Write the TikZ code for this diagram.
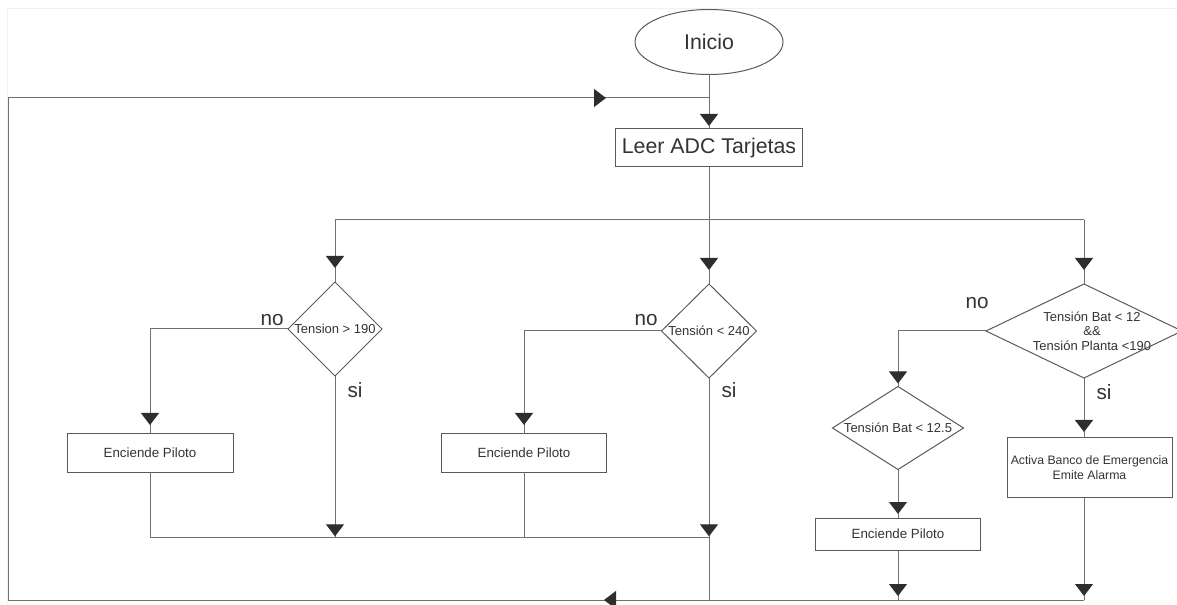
\documentclass[tikz,border=0pt]{standalone}
\usepackage{fontspec}
\setmainfont{Liberation Sans}
\usetikzlibrary{shapes.geometric,arrows.meta,decorations.markings}
\definecolor{gris}{HTML}{707070}
\definecolor{borde}{HTML}{5A5A5A}
\definecolor{punta}{HTML}{2E2E2E}
\definecolor{texto}{HTML}{333333}

\begin{document}
\begin{tikzpicture}[x=0.75pt, y=-0.75pt, line width=0.75pt,
		every node/.style={text=texto, inner sep=0pt, outer sep=0pt},
		tri/.tip={Triangle[width=13.5pt, length=9pt, color=punta]},
		conector/.style={draw=gris},
		flecha/.style={decoration={markings, mark=at position -#1 with {\arrow{tri}}}, postaction={decorate}},
		caja/.style={draw=borde, rectangle, minimum width=123.75pt, minimum height=28.5pt, font=\fontsize{10}{12}\selectfont, align=center},
		rombo/.style={draw=borde, diamond, minimum width=70.5pt, minimum height=70.5pt},
		chico/.style={font=\fontsize{9.75}{11}\selectfont, align=center},
		etiq/.style={font=\fontsize{15.5}{18}\selectfont}]
	\useasboundingbox (0,0) rectangle (1177,605);
	\draw[gray!12] (7,605) -- (7,9) -- (1177,9);
	
	% 开始
	\node[ellipse, draw=borde, minimum width=111pt, minimum height=48.75pt, font=\fontsize{16}{19}\selectfont] (inicio) at (709,42) {Inicio};
	\node[caja, minimum width=140.25pt, font=\fontsize{16}{19}\selectfont] (leer) at (709,148) {Leer ADC Tarjetas};
	
	% 判断
	\node[rombo, label={[chico]center:Tension > 190}] (t1) at (335,329) {};
	\node[rombo, minimum width=71.25pt, label={[chico]center:Tensión < 240}] (t2) at (709,331) {};
	\node[rombo, minimum width=147pt, label={[chico, xshift=6pt]center:{Tensión Bat < 12\\\&\&\\Tensión Planta <190}}] (t3) at (1084,331) {};
	\node[rombo, minimum width=98.25pt, minimum height=62.25pt, label={[chico]center:Tensión Bat < 12.5}] (t4) at (898,428) {};
	
	% 处理
	\node[caja, minimum width=124.5pt] (p1) at (150,453) {Enciende Piloto};
	\node[caja] (p2) at (524,453) {Enciende Piloto};
	\node[caja, minimum height=24pt] (p3) at (898,534) {Enciende Piloto};
	\node[caja, minimum height=44.25pt, font=\fontsize{9.2}{11.25}\selectfont] (act) at (1089.5,467.5) {Activa Banco de Emergencia\\Emite Alarma};
	
	% 标签
	\node[etiq] (no1) at (272,320) {no};
	\node[etiq] (si1) at (355,390) {si};
	\node[etiq] (no2) at (646,320) {no};
	\node[etiq] (si2) at (729,390) {si};
	\node[etiq] (no3) at (977,303) {no};
	\node[etiq] (si3) at (1104,392) {si};
	
	% 辅助点
	\coordinate (rep) at (709,220);
	\coordinate (une) at (709,537);
	\coordinate (abajo) at (1084,600);
	\coordinate (esqa) at (8,600);
	\coordinate (esqb) at (8,98);
	\coordinate (ret) at (709,98);
	
	% 连线
	\draw[conector, flecha=2.25pt] (inicio.south) -- (leer.north);
	\draw[conector] (leer.south) -- (rep);
	\draw[conector] (t1.north |- rep) -- (t3.north |- rep);
	\draw[conector, flecha=10.5pt] (t1.north |- rep) -- (t1.north);
	\draw[conector, flecha=10.5pt] (rep) -- (t2.north);
	\draw[conector, flecha=10.5pt] (t3.north |- rep) -- (t3.north);
	
	\draw[conector, flecha=6.75pt] (t1.west) -| (p1.north);
	\draw[conector, flecha=6.75pt] (t2.west) -| (p2.north);
	\draw[conector, flecha=2.25pt] (t3.west) -| (t4.north);
	
	\draw[conector, flecha=0.5pt] (t1.south) -- (t1.south |- une);
	\draw[conector, flecha=0.5pt] (t2.south) -- (une);
	\draw[conector, flecha=4.5pt] (t3.south) -- (t3.south |- act.north);
	\draw[conector, flecha=3pt] (t4.south) -- (p3.north);
	
	\draw[conector] (p1.south) |- (une);
	\draw[conector] (p2.south) -- (p2.south |- une);
	\draw[conector] (une) -- (une |- abajo);
	\draw[conector, flecha=3pt] (p3.south) -- (p3.south |- abajo);
	\draw[conector, flecha=3pt] (t3.south |- act.south) -- (abajo);
	
	% 回路
	\draw[conector, decoration={markings, mark=at position 360pt with {\arrow{tri}}, mark=at position -77.25pt with {\arrow{tri}}}, postaction={decorate}] (abajo) -- (esqa) -- (esqb) -- (ret);
\end{tikzpicture}
\end{document}
